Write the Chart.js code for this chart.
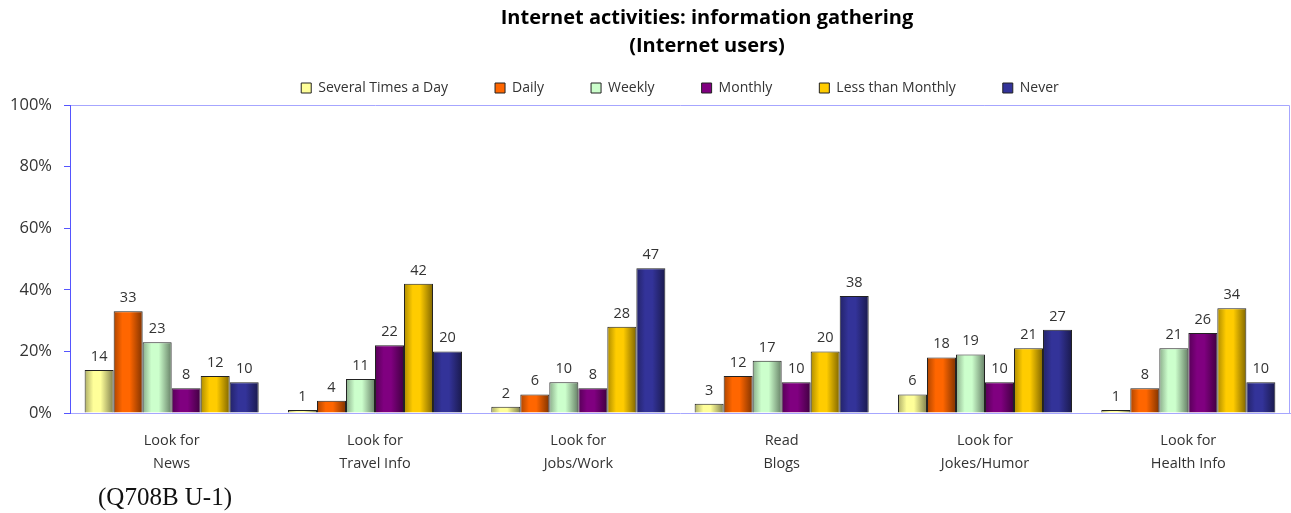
<!DOCTYPE html>
<html>
<head>
<meta charset="utf-8">
<script src="https://cdn.jsdelivr.net/npm/chart.js@4.4.1/dist/chart.umd.min.js"></script>
<style>
  body { margin: 0; background: #fff; }
  #wrap { position: relative; width: 1291px; height: 513px; }
  #title { position: absolute; left: 407px; top: 3px; width: 600px; text-align: center; font: bold 20px/28px "Open Sans", sans-serif; color: #000; }
  #note { position: absolute; left: 98px; top: 484px; font: 25px "Liberation Serif", "DejaVu Serif", serif; color: #111; line-height: 1; }
</style>
</head>
<body>
<div id="wrap">
  <canvas id="chart"></canvas>
  <div id="title">Internet activities: information gathering<br>(Internet users)</div>
  <div id="note">(Q708B U-1)</div>
</div>
<script>
// categories (two-line labels)
const categories = [
    ['Look for', 'News'],
    ['Look for', 'Travel Info'],
    ['Look for', 'Jobs/Work'],
    ['Read', 'Blogs'],
    ['Look for', 'Jokes/Humor'],
    ['Look for', 'Health Info']
];

// series values (percent)
const severalTimes = [14, 1, 2, 3, 6, 1];
const daily = [33, 4, 6, 12, 18, 8];
const weekly = [23, 11, 10, 17, 19, 21];
const monthly = [8, 22, 8, 10, 10, 26];
const lessMonthly = [12, 42, 28, 20, 21, 34];
const never = [10, 20, 47, 38, 27, 10];

const yTicks = [0, 20, 40, 60, 80, 100];

const FONT = '"Open Sans", sans-serif';

// darken a hex colour by factor f (0..1)
function shade(hex, f) {
    const n = parseInt(hex.slice(1), 16);
    const r = Math.round(((n >> 16) & 255) * f);
    const g = Math.round(((n >> 8) & 255) * f);
    const b = Math.round((n & 255) * f);
    return `rgb(${r},${g},${b})`;
}

function makeSet(label, data, color) {
    return {
        label: label,
        data: data,
        baseColor: color,
        backgroundColor: () => color, // scriptable so each bar gets its own options object
        borderColor: '#222',
        borderWidth: 1,
        categoryPercentage: 0.856,
        barPercentage: 1
    };
}

// cylinder-ish shading on each bar, built from the bar's own position
const barShading = {
    id: 'barShading',
    beforeDatasetsDraw(chart) {
        const c = chart.ctx;
        chart.data.datasets.forEach((ds, i) => {
            const meta = chart.getDatasetMeta(i);
            meta.data.forEach(el => {
                const {x, width} = el.getProps(['x', 'width'], true);
                const g = c.createLinearGradient(x - width / 2, 0, x + width / 2, 0);
                g.addColorStop(0, shade(ds.baseColor, 0.68));
                g.addColorStop(0.3, ds.baseColor);
                g.addColorStop(0.55, ds.baseColor);
                g.addColorStop(1, shade(ds.baseColor, 0.5));
                el.options.backgroundColor = g;
            });
        });
    }
};

// light frame on top and right of the plot area (left/bottom are the axes)
const plotFrame = {
    id: 'plotFrame',
    beforeDatasetsDraw(chart) {
        const {left, top, right, bottom} = chart.chartArea;
        const c = chart.ctx;
        c.save();
        c.strokeStyle = '#a6a6ff';
        c.lineWidth = 1;
        c.beginPath();
        c.moveTo(left + 1, top + 0.5);
        c.lineTo(right - 0.5, top + 0.5);
        c.lineTo(right - 0.5, bottom);
        c.stroke();
        c.restore();
    }
};

// value labels above the bars
const valueLabels = {
    id: 'valueLabels',
    afterDatasetsDraw(chart) {
        const c = chart.ctx;
        c.save();
        c.font = '14.5px ' + FONT;
        c.fillStyle = '#333';
        c.textAlign = 'center';
        c.textBaseline = 'bottom';
        chart.data.datasets.forEach((ds, i) => {
            chart.getDatasetMeta(i).data.forEach((el, j) => {
                c.fillText(ds.data[j], el.x, el.y - 6);
            });
        });
        c.restore();
    }
};

const ctx = document.getElementById('chart').getContext('2d');
new Chart(ctx, {
    type: 'bar',
    data: {
        labels: categories,
        datasets: [
            makeSet('Several Times a Day', severalTimes, '#ffff99'),
            makeSet('Daily', daily, '#ff6600'),
            makeSet('Weekly', weekly, '#ccffcc'),
            makeSet('Monthly', monthly, '#800080'),
            makeSet('Less than Monthly', lessMonthly, '#ffcc00'),
            makeSet('Never', never, '#333399')
        ]
    },
    options: {
        responsive: true,
        maintainAspectRatio: false,
        animation: false,
        layout: { padding: { top: 34, right: 1 } },
        scales: {
            x: {
                grid: { display: false, drawTicks: false },
                border: { color: '#a6a6ff' },
                ticks: {
                    color: '#333',
                    padding: 16,
                    maxRotation: 0,
                    font: { family: FONT, size: 14.5, lineHeight: 1.6 }
                },
                afterFit: s => { s.height = 100; }
            },
            y: {
                min: 0,
                max: 100,
                afterBuildTicks: s => { s.ticks = yTicks.map(v => ({ value: v })); },
                grid: { drawOnChartArea: false, color: '#5555ff', tickLength: 6 },
                border: { color: '#5555ff' },
                ticks: {
                    color: '#333',
                    padding: 12,
                    font: { family: FONT, size: 16.5 },
                    callback: v => v + '%'
                },
                afterFit: s => { s.width = 70; }
            }
        },
        plugins: {
            title: { display: false },
            legend: {
                fullSize: false,
                labels: {
                    color: '#333',
                    boxWidth: 10,
                    boxHeight: 10,
                    padding: 47,
                    font: { family: FONT, size: 14 }
                }
            },
            tooltip: { enabled: false }
        }
    },
    plugins: [plotFrame, barShading, valueLabels]
});
</script>
</body>
</html>
